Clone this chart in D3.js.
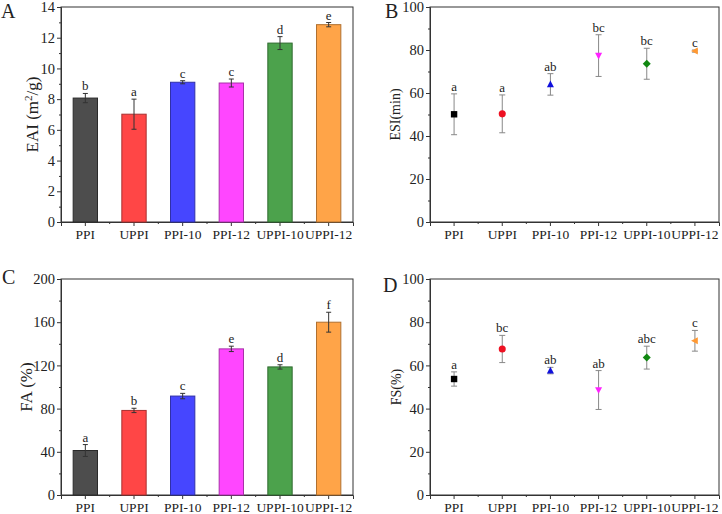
<!DOCTYPE html>
<html><head><meta charset="utf-8">
<script src="https://cdn.jsdelivr.net/npm/d3@7"></script>
<style>
body{margin:0;background:#fff;}
svg text{font-family:"Liberation Serif","Times New Roman",serif;fill:#222;}
</style></head>
<body>
<svg id="chart" width="722" height="514"></svg>
<script>
const categories = ["PPI","UPPI","PPI-10","PPI-12","UPPI-10","UPPI-12"];

const eaiValues = [8.07, 7.02, 9.1, 9.05, 11.65, 12.85];
const eaiErrors = [0.3, 0.98, 0.1, 0.26, 0.42, 0.14];
const eaiLetters = ["b","a","c","c","d","e"];

const esiValues = [50.1, 50.3, 64.0, 77.4, 73.6, 79.5];
const esiErrors = [9.5, 8.8, 5.0, 9.7, 7.2, 0.5];
const esiLetters = ["a","a","ab","bc","bc","c"];

const faValues = [41.2, 78.3, 91.6, 135.3, 118.6, 160.0];
const faErrors = [5.5, 2.0, 2.5, 2.5, 2.0, 9.2];
const faLetters = ["a","b","c","e","d","f"];

const fsValues = [53.7, 67.6, 57.6, 48.6, 63.6, 71.4];
const fsErrors = [3.3, 6.3, 1.5, 9.0, 5.3, 4.8];
const fsLetters = ["a","bc","ab","ab","abc","c"];

const barFill = ["#4d4d4d","#ff4646","#4646ff","#ff46ff","#4ca24c","#ffa448"];
const barStroke = ["#2a2a2a","#a83030","#3030a8","#a830a8","#2f6a2f","#b0702f"];
const markerFill = ["#000000","#ee1122","#1010dd","#ff22ff","#118811","#ff9933"];
const markerShapes = ["square","circle","up","down","diamond","left"];

const FONT = '"Liberation Serif","Times New Roman",serif';
const svg = d3.select("#chart");

function panel(opts){
  const {left, top, right, bottom, max, major, minor, label, labelSize, labelX, letter, letterX, letterY} = opts;
  const g = svg.append("g");
  const x = d3.scaleBand().domain(categories).range([left, right]).paddingInner(0).paddingOuter(0);
  const y = d3.scaleLinear().domain([0, max]).range([bottom, top]);

  g.append("rect").attr("x", left).attr("y", top).attr("width", right-left).attr("height", bottom-top)
    .attr("fill","none").attr("stroke","#333").attr("stroke-width",1);

  const yAxis = d3.axisLeft(y).tickValues(d3.range(0, max+0.001, major)).tickSize(4).tickPadding(2);
  const ya = g.append("g").attr("transform",`translate(${left},0)`).call(yAxis);
  ya.attr("font-family", FONT);
  ya.select(".domain").attr("stroke","#333");
  ya.selectAll(".tick line").attr("stroke","#333");
  ya.selectAll(".tick text").attr("font-size",14.5).attr("fill","#222").attr("font-family",FONT);
  const yMinor = d3.axisLeft(y).tickValues(d3.range(minor, max, major)).tickSize(2).tickFormat("");
  const ym = g.append("g").attr("transform",`translate(${left},0)`).call(yMinor);
  ym.select(".domain").remove();
  ym.selectAll(".tick line").attr("stroke","#333");

  const xAxis = d3.axisBottom(x).tickSize(4).tickPadding(3);
  const xa = g.append("g").attr("transform",`translate(0,${bottom})`).call(xAxis);
  xa.attr("font-family", FONT);
  xa.select(".domain").attr("stroke","#333");
  xa.selectAll(".tick line").attr("stroke","#333");
  xa.selectAll(".tick text").attr("font-size",13.5).attr("fill","#222").attr("font-family",FONT);
  const edges = categories.slice(1).map(c => x(c));
  g.selectAll(".xminor").data(edges).enter().append("line")
    .attr("x1", d=>d).attr("x2", d=>d).attr("y1", bottom).attr("y2", bottom+2).attr("stroke","#333");

  const lt = g.append("text").attr("transform",`translate(${labelX},${(top+bottom)/2}) rotate(-90)`)
    .attr("text-anchor","middle").attr("font-size",labelSize);
  if (Array.isArray(label)) {
    lt.append("tspan").text(label[0]);
    lt.append("tspan").attr("baseline-shift","super").attr("font-size",labelSize*0.65).text(label[1]);
    lt.append("tspan").text(label[2]);
  } else lt.text(label);

  g.append("text").attr("x", letterX).attr("y", letterY).attr("font-size",20).text(letter);
  return {g, x, y};
}

(function(){
  const {g,x,y} = panel({left:61, top:7, right:353, bottom:222, max:14, major:2, minor:1,
    label:["EAI (m","2","/g)"], labelSize:17, labelX:38, letter:"A", letterX:1, letterY:18});
  const bw = x.bandwidth()*0.5;
  g.selectAll(".bar").data(categories).enter().append("rect")
    .attr("x", c => x(c)+x.bandwidth()/2-bw/2).attr("width", bw)
    .attr("y", (c,i)=>y(eaiValues[i])).attr("height",(c,i)=>y(0)-y(eaiValues[i]))
    .attr("fill",(c,i)=>barFill[i]).attr("stroke",(c,i)=>barStroke[i]).attr("stroke-width",1);
  drawErr(g,x,y,eaiValues,eaiErrors,"#333",5);
  drawLetters(g,x,y,eaiValues,eaiErrors,eaiLetters);
})();

(function(){
  const {g,x,y} = panel({left:430, top:7, right:719, bottom:222, max:100, major:20, minor:10,
    label:"ESI(min)", labelSize:14, labelX:400, letter:"B", letterX:385, letterY:18});
  drawErr(g,x,y,esiValues,esiErrors,"#888",6);
  drawMarkers(g,x,y,esiValues);
  drawLetters(g,x,y,esiValues,esiErrors,esiLetters);
})();

(function(){
  const {g,x,y} = panel({left:61, top:279, right:353, bottom:495, max:200, major:40, minor:20,
    label:"FA (%)", labelSize:17, labelX:32, letter:"C", letterX:2, letterY:284});
  const bw = x.bandwidth()*0.5;
  g.selectAll(".bar").data(categories).enter().append("rect")
    .attr("x", c => x(c)+x.bandwidth()/2-bw/2).attr("width", bw)
    .attr("y", (c,i)=>y(faValues[i])).attr("height",(c,i)=>y(0)-y(faValues[i]))
    .attr("fill",(c,i)=>barFill[i]).attr("stroke",(c,i)=>barStroke[i]).attr("stroke-width",1);
  drawErr(g,x,y,faValues,faErrors,"#333",5);
  drawLetters(g,x,y,faValues,faErrors,faLetters);
})();

(function(){
  const {g,x,y} = panel({left:430, top:279, right:719, bottom:495, max:100, major:20, minor:10,
    label:"FS(%)", labelSize:14, labelX:401, letter:"D", letterX:383, letterY:292});
  drawErr(g,x,y,fsValues,fsErrors,"#888",6);
  drawMarkers(g,x,y,fsValues);
  drawLetters(g,x,y,fsValues,fsErrors,fsLetters);
})();

function drawErr(g,x,y,vals,errs,color,cap){
  categories.forEach((c,i)=>{
    const cx = x(c)+x.bandwidth()/2;
    const y1 = y(vals[i]+errs[i]), y2 = y(vals[i]-errs[i]);
    g.append("line").attr("x1",cx).attr("x2",cx).attr("y1",y1).attr("y2",y2).attr("stroke",color).attr("stroke-width",1);
    g.append("line").attr("x1",cx-cap/2).attr("x2",cx+cap/2).attr("y1",y1).attr("y2",y1).attr("stroke",color).attr("stroke-width",1);
    g.append("line").attr("x1",cx-cap/2).attr("x2",cx+cap/2).attr("y1",y2).attr("y2",y2).attr("stroke",color).attr("stroke-width",1);
  });
}
function drawLetters(g,x,y,vals,errs,letters){
  g.selectAll(null).data(categories).enter().append("text")
    .attr("x", c=>x(c)+x.bandwidth()/2).attr("y",(c,i)=>y(vals[i]+errs[i])-3)
    .attr("text-anchor","middle").attr("font-size",13).text((c,i)=>letters[i]);
}
function drawMarkers(g,x,y,vals){
  const s = 3.2;
  const paths = {
    square: `M${-s},${-s}H${s}V${s}H${-s}Z`,
    up: `M0,${-s*1.2}L${s*1.1},${s*0.9}L${-s*1.1},${s*0.9}Z`,
    down: `M0,${s*1.2}L${s*1.1},${-s*0.9}L${-s*1.1},${-s*0.9}Z`,
    diamond: `M0,${-s*1.25}L${s*1.25},0L0,${s*1.25}L${-s*1.25},0Z`,
    left: `M${-s*1.2},0L${s*0.9},${-s*1.1}L${s*0.9},${s*1.1}Z`
  };
  categories.forEach((c,i)=>{
    const cx = x(c)+x.bandwidth()/2, cy = y(vals[i]);
    if (markerShapes[i]==="circle") {
      g.append("circle").attr("cx",cx).attr("cy",cy).attr("r",s*1.1).attr("fill",markerFill[i]);
    } else {
      g.append("path").attr("d",paths[markerShapes[i]]).attr("transform",`translate(${cx},${cy})`).attr("fill",markerFill[i]);
    }
  });
}
</script>
</body></html>
